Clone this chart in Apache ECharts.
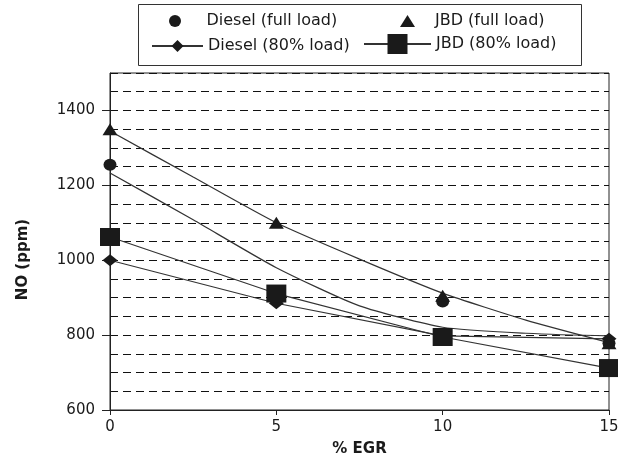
<!DOCTYPE html>
<html>
<head>
<meta charset="utf-8">
<title>NO vs EGR</title>
<script src="https://cdn.jsdelivr.net/npm/echarts/dist/echarts.min.js"></script>
<style>
    html, body {margin: 0; padding: 0; background: #fff;}
    #chart {width: 618px; height: 458px;}
</style>
</head>
<body>
<div id="chart"></div>
<script>
// % EGR on the x axis
var egr = [0, 5, 10, 15];
var dieselFull = [1255, null, 890, 778];
var jbdFull = [1350, 1100, 905, 778];
var diesel80 = [1000, 885, 798, 790];
var jbd80 = [1062, 911, 795, 712];

// trend lines drawn through the full load points
var fitEgr = [0, 2.5, 5, 7.5, 10, 12.5, 15];
var dieselFullFit = [1233, 1108, 980, 878, 821, 805, 798];
var jbdFullFit = [1345, 1222, 1100, 1003, 912, 840, 780];

var yLabels = [600, 800, 1000, 1200, 1400];

var font = 'DejaVu Sans';
var ink = '#1a1a1a';

function pairs(xs, ys) {
    var out = [];
    for (var i = 0; i < xs.length; i++) {
        if (ys[i] !== null) {
            out.push([xs[i], ys[i]]);
        }
    }
    return out;
}

// one legend per entry so every icon can have its own size
function legendAt(name, left, top, w, h, textPad) {
    return {
        data: [name],
        orient: 'vertical',
        left: left,
        top: top,
        padding: 0,
        itemWidth: w,
        itemHeight: h,
        selectedMode: false,
        textStyle: {
            fontFamily: font,
            fontSize: 16,
            color: ink,
            lineHeight: 18,
            padding: [0, 0, 0, textPad || 0]
        }
    };
}

var chart = echarts.init(document.getElementById('chart'));

var option = {
    animation: false,
    color: [ink],
    graphic: [{
        type: 'rect',
        shape: {x: 138.5, y: 4.5, width: 443, height: 61},
        style: {fill: 'none', stroke: '#333', lineWidth: 1}
    }],
    legend: [
        legendAt('Diesel (full load)', 169, 12, 13, 12, 20),
        legendAt('Diesel (80% load)', 151, 37, 51, 15),
        legendAt('JBD (full load)', 400, 12, 15, 12, 15),
        legendAt('JBD (80% load)', 363, 34, 67, 25)
    ],
    grid: {
        left: 110,
        right: 9,
        top: 73,
        bottom: 48,
        outerBoundsMode: 'none',
        show: true,
        borderColor: '#222',
        borderWidth: 1
    },
    xAxis: {
        type: 'value',
        min: 0,
        max: 15,
        interval: 5,
        name: '% EGR',
        nameLocation: 'middle',
        nameGap: 32,
        nameTextStyle: {fontFamily: font, fontSize: 15, fontWeight: 'bold', color: ink},
        axisLine: {lineStyle: {color: '#222', width: 1}},
        axisTick: {length: 5, lineStyle: {color: '#222'}},
        axisLabel: {margin: 10, fontFamily: font, fontSize: 15, color: ink},
        splitLine: {show: false}
    },
    yAxis: [
        {
            type: 'value',
            min: 600,
            max: 1500,
            interval: 100,
            name: 'NO (ppm)',
            nameLocation: 'middle',
            nameGap: 79,
            nameTextStyle: {fontFamily: font, fontSize: 15, fontWeight: 'bold', color: ink, padding: [0, 36, 0, 0]},
            axisLine: {show: true, lineStyle: {color: '#222', width: 1}},
            axisTick: {show: true, length: 8, customValues: yLabels, lineStyle: {color: '#222'}},
            axisLabel: {
                margin: 15,
                customValues: yLabels,
                fontFamily: font,
                fontSize: 15,
                color: ink,
                formatter: function (v) {
                    return String(v);
                }
            },
            splitLine: {show: false}
        },
        {
            // only the dashed grid every 50 ppm
            type: 'value',
            position: 'left',
            min: 600,
            max: 1500,
            interval: 50,
            axisLine: {show: false},
            axisTick: {show: false},
            axisLabel: {show: false},
            splitLine: {show: true, lineStyle: {color: '#111', width: 1, type: [8, 5]}}
        }
    ],
    series: [
        {
            name: 'Diesel (full load) fit',
            type: 'line',
            data: pairs(fitEgr, dieselFullFit),
            smooth: 0.2,
            symbol: 'none',
            lineStyle: {color: '#333', width: 1.2},
            z: 2
        },
        {
            name: 'JBD (full load) fit',
            type: 'line',
            data: pairs(fitEgr, jbdFullFit),
            smooth: 0.2,
            symbol: 'none',
            lineStyle: {color: '#333', width: 1.2},
            z: 2
        },
        {
            name: 'Diesel (80% load)',
            type: 'line',
            data: pairs(egr, diesel80),
            symbol: 'diamond',
            symbolSize: [15, 12],
            lineStyle: {color: '#333', width: 1.2},
            itemStyle: {color: ink},
            z: 3
        },
        {
            name: 'JBD (80% load)',
            type: 'line',
            data: pairs(egr, jbd80),
            symbol: 'rect',
            symbolSize: [20, 18],
            lineStyle: {color: '#333', width: 1.2},
            itemStyle: {color: ink},
            z: 4
        },
        {
            name: 'Diesel (full load)',
            type: 'scatter',
            data: pairs(egr, dieselFull),
            symbol: 'circle',
            symbolSize: [13, 12],
            itemStyle: {color: ink, opacity: 1},
            z: 5
        },
        {
            name: 'JBD (full load)',
            type: 'scatter',
            data: pairs(egr, jbdFull),
            symbol: 'triangle',
            symbolSize: [15, 12],
            itemStyle: {color: ink, opacity: 1},
            z: 5
        }
    ]
};

chart.setOption(option);
</script>
</body>
</html>
